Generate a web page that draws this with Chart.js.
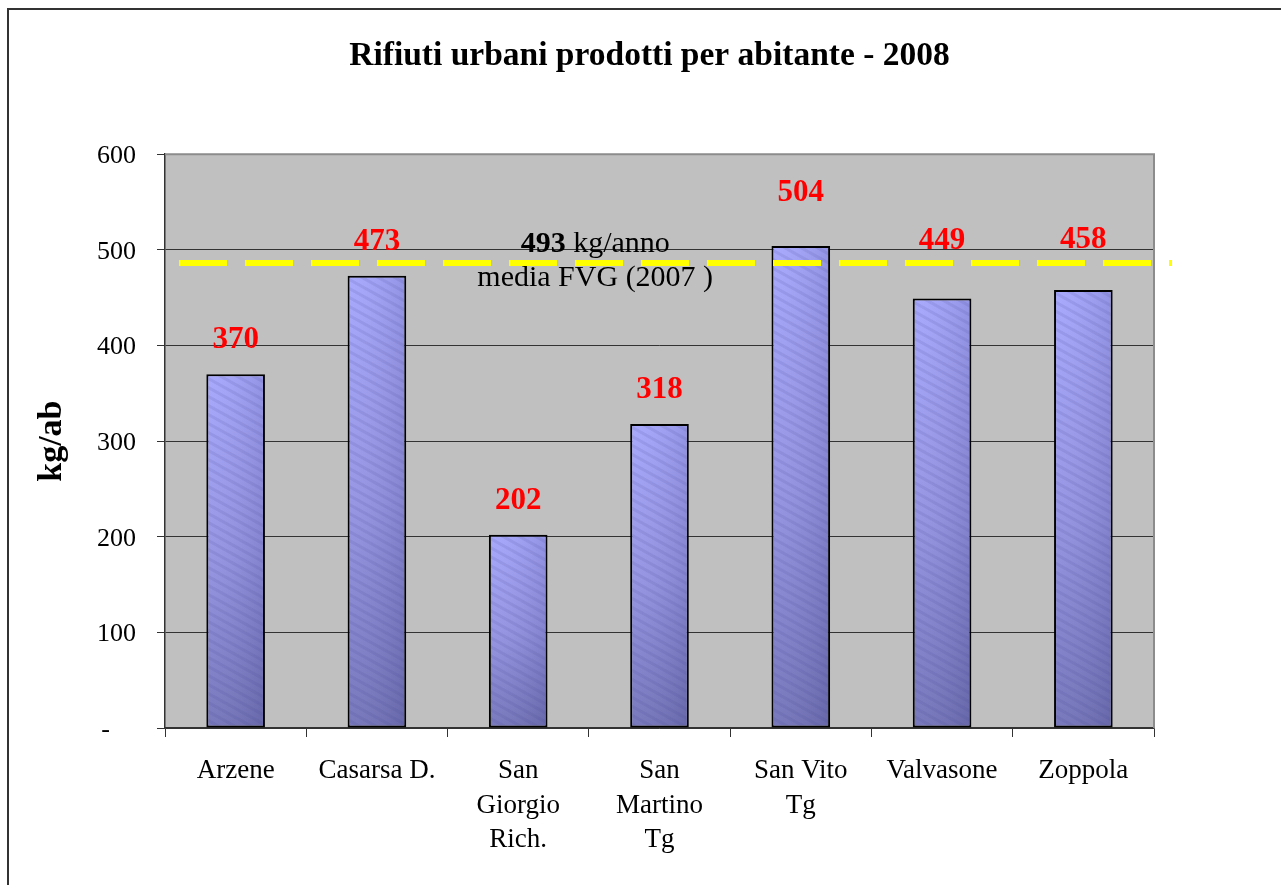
<!DOCTYPE html>
<html><head><meta charset="utf-8">
<script src="https://cdn.jsdelivr.net/npm/chart.js@4/dist/chart.umd.min.js"></script>
<style>
html,body{margin:0;padding:0;background:#fff;overflow:hidden}
#wrap{position:relative;width:1281px;height:885px}
#frame{position:absolute;left:7px;top:8px;width:1400px;height:1000px;border-left:2px solid #333;border-top:2px solid #333;pointer-events:none}
canvas{display:block}
</style></head><body>
<div id="wrap"><canvas id="c" width="1281" height="885"></canvas><div id="frame"></div></div>
<script>
// ---- data ----
const categories = [['Arzene'], ['Casarsa D.'], ['San', 'Giorgio', 'Rich.'], ['San', 'Martino', 'Tg'], ['San Vito', 'Tg'], ['Valvasone'], ['Zoppola']];
const values = [370, 473, 202, 318, 504, 449, 458];
const yTickValues = [0, 100, 200, 300, 400, 500, 600];
const averageLineValue = 486;          // where the dashed FVG line sits on the scale
const averageLabelNumber = '493';
const averageLabelLines = [' kg/anno', 'media FVG (2007 )'];
const titleText = 'Rifiuti urbani prodotti per abitante - 2008';
const yTitleText = 'kg/ab';

// ---- styling ----
const SERIF = "'Liberation Serif', 'Times New Roman', serif";
const BAR_PCT = 0.415;

function barFill(ctx) {
  const chart = ctx.chart;
  const xs = chart.scales.x, ys = chart.scales.y;
  if (!xs || !ys || ctx.type !== 'data' || !chart.chartArea) return '#9494e6';
  const top = ys.getPixelForValue(ctx.raw);
  const bottom = ys.getPixelForValue(0);
  const cx = xs.getPixelForValue(ctx.dataIndex);
  const w = xs.width / categories.length * BAR_PCT;
  const left = Math.floor(cx - w / 2 - 4);
  const W = Math.ceil(w + 8), H = Math.ceil(bottom - top + 8);
  const off = document.createElement('canvas');
  off.width = W; off.height = H;
  const o = off.getContext('2d');
  const g = o.createLinearGradient(0, 0, 0, H);
  g.addColorStop(0, '#a6a6ff');
  g.addColorStop(0.5, '#9292e4');
  g.addColorStop(1, '#7070b8');
  o.fillStyle = g; o.fillRect(0, 0, W, H);
  const h = o.createLinearGradient(0, 0, W, 0);
  h.addColorStop(0, 'rgba(255,255,255,0.05)');
  h.addColorStop(1, 'rgba(20,20,60,0.15)');
  o.fillStyle = h; o.fillRect(0, 0, W, H);
  o.strokeStyle = 'rgba(70,70,150,0.13)';
  o.lineWidth = 3;
  for (let k = -W; k < H + W; k += 9) {
    o.beginPath(); o.moveTo(0, k); o.lineTo(W, k + W * 0.55); o.stroke();
  }
  const pat = chart.ctx.createPattern(off, 'no-repeat');
  pat.setTransform(new DOMMatrix().translate(left, Math.floor(top) - 4));
  return pat;
}

const plotDecor = {
  id: 'plotDecor',
  beforeDraw(chart) {
    const {ctx, chartArea: a} = chart;
    ctx.save();
    ctx.fillStyle = '#c0c0c0';
    ctx.fillRect(a.left, a.top, a.right - a.left, a.bottom - a.top);
    ctx.restore();
  },
  afterDraw(chart) {
    const {ctx, chartArea: a} = chart;
    ctx.save();
    ctx.strokeStyle = '#8c8c8c';
    ctx.lineWidth = 2;
    ctx.beginPath();
    ctx.moveTo(a.left, a.top);
    ctx.lineTo(a.right, a.top);
    ctx.lineTo(a.right, a.bottom);
    ctx.stroke();
    ctx.restore();
  }
};

const averageLine = {
  id: 'averageLine',
  afterDatasetsDraw(chart) {
    const {ctx, chartArea: a, scales: {y}} = chart;
    const py = Math.round(y.getPixelForValue(averageLineValue));
    ctx.save();
    ctx.strokeStyle = '#ffff00';
    ctx.lineWidth = 6;
    ctx.setLineDash([48, 18]);
    ctx.beginPath();
    ctx.moveTo(a.left + 14, py);
    ctx.lineTo(a.right + 18, py);
    ctx.stroke();
    ctx.setLineDash([]);
    // annotation text
    const cx = a.left + (a.right - a.left) * 0.435;
    ctx.fillStyle = '#000';
    ctx.textBaseline = 'alphabetic';
    const bold = 'bold 30px ' + SERIF, reg = '30px ' + SERIF;
    ctx.font = bold; const w1 = ctx.measureText(averageLabelNumber).width;
    ctx.font = reg; const w2 = ctx.measureText(averageLabelLines[0]).width;
    let x0 = cx - (w1 + w2) / 2;
    ctx.textAlign = 'left';
    ctx.font = bold; ctx.fillText(averageLabelNumber, x0, py - 11);
    ctx.font = reg; ctx.fillText(averageLabelLines[0], x0 + w1, py - 11);
    ctx.textAlign = 'center';
    ctx.fillText(averageLabelLines[1], cx, py + 23);
    ctx.restore();
  }
};

const valueLabels = {
  id: 'valueLabels',
  afterDatasetsDraw(chart, args, opts) {
    const {ctx} = chart;
    const meta = chart.getDatasetMeta(0);
    ctx.save();
    ctx.fillStyle = '#ff0000';
    ctx.font = 'bold 31px ' + SERIF;
    ctx.textAlign = 'center';
    ctx.textBaseline = 'alphabetic';
    meta.data.forEach((el, i) => {
      const gap = opts.gaps[i];
      ctx.fillText(String(values[i]), el.x, el.y - gap);
    });
    ctx.restore();
  }
};

Chart.defaults.font.family = SERIF;
Chart.defaults.color = '#000';

new Chart(document.getElementById('c'), {
  type: 'bar',
  data: {
    labels: categories,
    datasets: [{
      data: values,
      backgroundColor: barFill,
      borderColor: '#000',
      borderWidth: 2,
      borderSkipped: false,
      barPercentage: BAR_PCT,
      categoryPercentage: 1
    }]
  },
  options: {
    responsive: false,
    animation: false,
    devicePixelRatio: 1,
    layout: {padding: {left: 18, right: 0, top: 0, bottom: 0}},
    plugins: {
      legend: {display: false},
      tooltip: {enabled: false},
      title: {
        display: true,
        text: titleText,
        color: '#000',
        font: {family: SERIF, size: 33.5, weight: 'bold'},
        padding: {top: 36, bottom: 78}
      },
      valueLabels: {gaps: [26, 26, 26, 26, 45, 50, 42]}
    },
    scales: {
      x: {
        grid: {display: true, drawOnChartArea: false, drawTicks: true, tickLength: 9, color: '#333', offset: true},
        border: {display: true, color: '#333', width: 1.5},
        ticks: {font: {size: 27, lineHeight: 1.28}, color: '#000', padding: 17, maxRotation: 0, autoSkip: false},
        afterFit(scale) { scale.height = 157; }
      },
      y: {
        min: 0, max: 600,
        afterBuildTicks(scale) { scale.ticks = yTickValues.map(v => ({value: v})); },
        grid: {color: '#333', lineWidth: 1, tickLength: 8, tickColor: '#333'},
        border: {display: true, color: '#333', width: 1.5},
        ticks: {
          font: {size: 26}, color: '#000', padding: 21, labelOffset: 2,
          callback: v => v === 0 ? '-    ' : String(v)
        },
        title: {display: true, text: yTitleText, color: '#000', font: {size: 34, weight: 'bold'}, padding: {top: 14, bottom: 0}},
        afterFit(scale) { scale.width = 147; }
      },
      yRight: {
        position: 'right',
        display: true,
        grid: {display: false, drawOnChartArea: false},
        border: {display: false},
        ticks: {display: false},
        afterFit(scale) { scale.width = 127; }
      }
    }
  },
  plugins: [plotDecor, averageLine, valueLabels]
});
</script>
</body></html>
